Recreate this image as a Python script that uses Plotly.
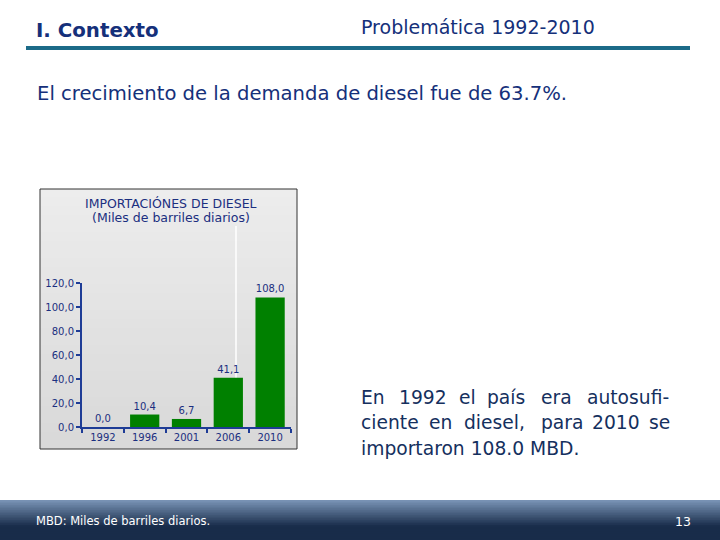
import plotly.graph_objects as go

years = ["1992", "1996", "2001", "2006", "2010"]
imports = [0.0, 10.4, 6.7, 41.1, 108.0]
y_ticks = [0, 20, 40, 60, 80, 100, 120]

W, H = 720, 540

def px(x):
    return x / W

def py(y):
    return 1 - y / H

navy = "#1b2f80"
fig = go.Figure()
fig.add_trace(go.Bar(
    x=years, y=imports, marker=dict(color="#008000", line=dict(width=0)),
    width=0.7, texttemplate="%{y:.1f}", textposition="outside",
    textfont=dict(family="DejaVu Sans", size=10, color=navy),
    cliponaxis=False, hoverinfo="skip",
))

shapes = []
# chart box gradient background (overlapping bands avoid seams)
x0, x1, y0, y1 = 40, 297, 189, 449
n = 30
for i in range(n):
    t = i / (n - 1)
    c = int(237 - 20 * t)
    shapes.append(dict(type="rect", xref="paper", yref="paper",
                       x0=px(x0), x1=px(x1),
                       y0=py(y1), y1=py(y0 + (y1 - y0) * i / n),
                       fillcolor=f"rgb({c},{c},{c})", line=dict(width=0), layer="below"))
shapes.append(dict(type="rect", xref="paper", yref="paper", x0=px(x0), x1=px(x1),
                   y0=py(y1), y1=py(y0), line=dict(color="#333333", width=1), layer="below"))
# white artifact line
shapes.append(dict(type="line", xref="paper", yref="paper", x0=px(236), x1=px(236),
                   y0=py(378), y1=py(226), line=dict(color="white", width=1.5), layer="below"))
# header rule
shapes.append(dict(type="line", xref="paper", yref="paper", x0=px(26), x1=px(690),
                   y0=py(48), y1=py(48), line=dict(color="#1c6b88", width=4)))
# footer gradient band
fy0, fy1 = 500, 540
m = 24
for i in range(m):
    t = min(1.0, (i / (m - 1)) * 1.5)
    r = int(120 + (24 - 120) * t)
    g = int(146 + (44 - 146) * t)
    b = int(180 + (74 - 180) * t)
    shapes.append(dict(type="rect", xref="paper", yref="paper", x0=0, x1=1,
                       y0=0, y1=py(fy0 + (fy1 - fy0) * i / m),
                       fillcolor=f"rgb({r},{g},{b})", line=dict(width=0)))

ann = []
def text(x, y, s, size, color="#1b2f6e", bold=False, xanchor="left", family="DejaVu Sans"):
    ann.append(dict(x=px(x), y=py(y), xref="paper", yref="paper", text=f"<b>{s}</b>" if bold else s,
                    showarrow=False, xanchor=xanchor, yanchor="middle", borderpad=0,
                    font=dict(family=family, size=size, color=color)))

hdr = "#15307a"
text(35, 30, "I. Contexto", 19.8, color=hdr, bold=True)
text(360, 27, "Problemática 1992-2010", 19, color=hdr)
text(36, 93, "El crecimiento de la demanda de diesel fue de 63.7%.", 19.6, color=hdr)
text(171, 203, "IMPORTACIÓNES DE DIESEL", 12.5, color=navy, xanchor="center")
text(171, 218, "(Miles de barriles diarios)", 12.5, color=navy, xanchor="center")

# justified paragraph: words placed per line
body = "#15305e"
line1 = ["En", "1992", "el", "país", "era", "autosufi-"]
line1_x = [360, 398, 458, 486, 540, 586]
line2 = ["ciente", "en", "diesel,", "para", "2010", "se"]
line2_x = [360, 428, 463, 540, 591, 648]
for w, x in zip(line1, line1_x):
    text(x, 397, w, 18.7, color=body)
for w, x in zip(line2, line2_x):
    text(x, 422, w, 18.7, color=body)
text(360, 448, "importaron 108.0 MBD.", 18.7, color=body)

text(35, 521, "MBD: Miles de barriles diarios.", 11.5, color="white")
text(692, 521, "13", 12.5, color="white", xanchor="right")

axc = "#1e3c96"
fig.update_layout(
    template="none",
    width=W, height=H, margin=dict(l=0, r=0, t=0, b=0, pad=0, autoexpand=False),
    paper_bgcolor="white", plot_bgcolor="rgba(0,0,0,0)",
    separators=",.", showlegend=False, bargap=0.3,
    shapes=shapes, annotations=ann,
    xaxis=dict(domain=[px(82), px(291)], type="category", showgrid=False, automargin=False,
               showline=True, linecolor=axc, linewidth=2,
               ticks="outside", tickson="boundaries", ticklen=4, tickcolor=axc, tickwidth=2,
               tickfont=dict(family="DejaVu Sans", size=10, color=navy), fixedrange=True),
    yaxis=dict(domain=[py(427), py(283)], range=[0, 120], tickvals=y_ticks, tickformat=".1f",
               showgrid=False, zeroline=False, showline=True, linecolor=axc, linewidth=2,
               automargin=False,
               ticks="outside", ticklen=4, tickcolor=axc, tickwidth=2,
               tickfont=dict(family="DejaVu Sans", size=10, color=navy), fixedrange=True),
)

fig.write_html("out.html")
